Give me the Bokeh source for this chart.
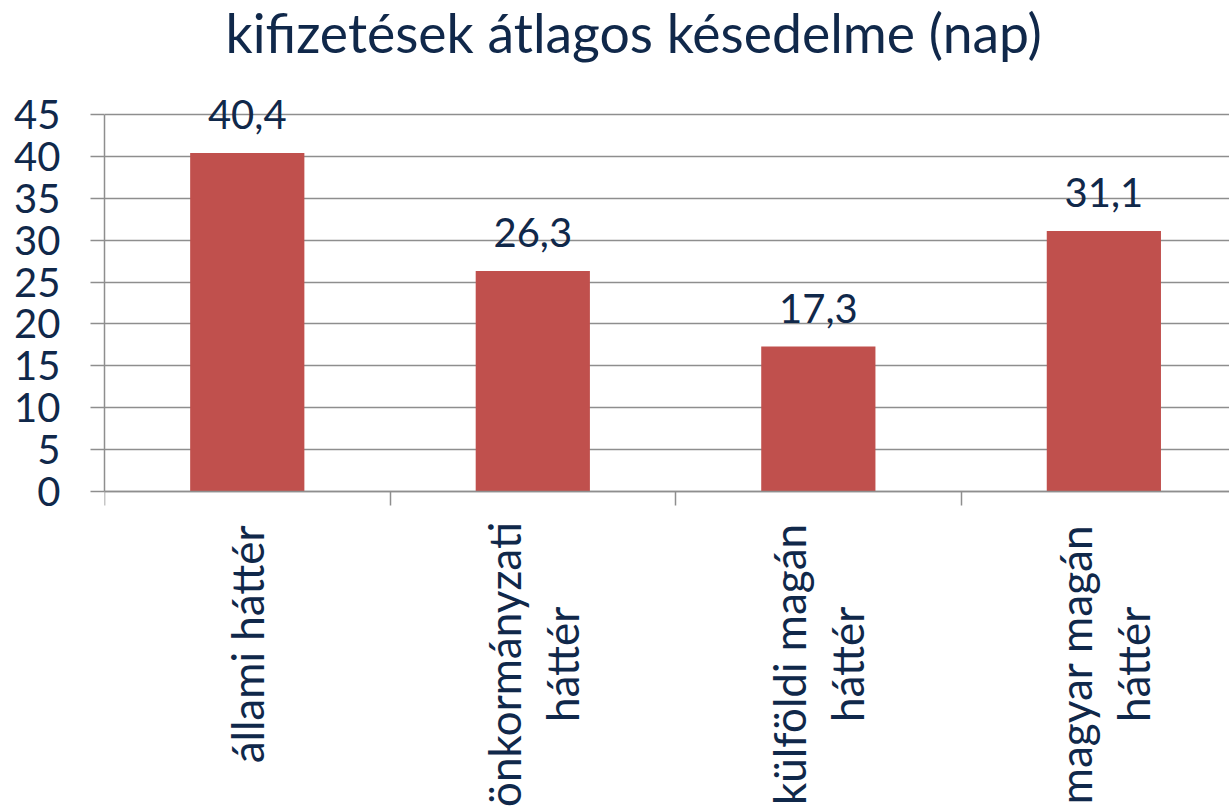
import numpy as np
from bokeh.plotting import figure
from bokeh.models import Range1d, FixedTicker, ColumnDataSource, LabelSet, Label
from bokeh.core.properties import value
from bokeh.embed import file_html
from bokeh.resources import INLINE

title = "kifizetések átlagos késedelme (nap)"
categories = ["állami háttér", "önkormányzati\nháttér", "külföldi magán\nháttér", "magyar magán\nháttér"]
values = [40.4, 26.3, 17.3, 31.1]
value_labels = ["40,4", "26,3", "17,3", "31,1"]
y_ticks = [0, 5, 10, 15, 20, 25, 30, 35, 40, 45]

FONT = "Lato"
TXT = "#10284A"
GRID = "#8E8E8E"
BAR = "#C0504D"

n = len(categories)
xpos = np.arange(n) + 0.5

FRAME_H = 811
p = figure(frame_width=1125, frame_height=FRAME_H, output_backend="svg", toolbar_location=None,
           x_range=Range1d(0, 3.94), y_range=Range1d(-38.2, 58.6),
           min_border_left=104, min_border_right=0, min_border_top=0, min_border_bottom=0)
p.outline_line_color = None
p.background_fill_color = "white"

# title drawn as a label at the top of the canvas
p.add_layout(Label(x=121, y=FRAME_H - 31, x_units="screen", y_units="screen", text=title,
                   text_align="left", text_baseline="alphabetic", text_font=FONT,
                   text_font_size="53.5px", text_color=TXT))

src = ColumnDataSource(dict(x=xpos, top=values, lab=value_labels))
p.vbar(x="x", top="top", width=0.4, source=src, fill_color=BAR, line_color=None)

p.add_layout(LabelSet(x="x", y="top", text="lab", source=src, text_align="center",
                      text_baseline="alphabetic", y_offset=24, text_font=value(FONT),
                      text_font_size="40px", text_color=TXT))

# y axis
p.yaxis.ticker = FixedTicker(ticks=y_ticks)
p.yaxis.bounds = (0, 45)
p.yaxis.axis_line_color = GRID
p.yaxis.axis_line_width = 1.5
p.yaxis.major_tick_line_color = GRID
p.yaxis.major_tick_line_width = 1.5
p.yaxis.major_tick_out = 14
p.yaxis.major_tick_in = 0
p.yaxis.minor_tick_line_color = None
p.yaxis.major_label_text_font = FONT
p.yaxis.major_label_text_font_size = "40px"
p.yaxis.major_label_text_color = TXT
p.yaxis.major_label_standoff = 30

p.ygrid.ticker = FixedTicker(ticks=y_ticks)
p.ygrid.grid_line_color = GRID
p.ygrid.grid_line_width = 1.5
p.xgrid.grid_line_color = None

# x axis at y=0 with separator ticks at category boundaries
p.xaxis.fixed_location = 0
p.xaxis.ticker = FixedTicker(ticks=list(xpos), minor_ticks=list(range(n + 1)))
p.xaxis.major_label_text_color = None
p.xaxis.major_tick_line_color = None
p.xaxis.minor_tick_line_color = GRID
p.xaxis.minor_tick_line_width = 1.5
p.xaxis.minor_tick_out = 14
p.xaxis.minor_tick_in = 0
p.xaxis.axis_line_color = GRID
p.xaxis.axis_line_width = 1.5

# category labels, vertical, below the axis
LINE_GAP = 58
for xi, cat in zip(xpos, categories):
    lines = cat.split("\n")
    k = len(lines)
    for j, line in enumerate(lines):
        if k == 1:
            align, yoff = "right", -34
        else:
            align, yoff = "center", -173
        p.add_layout(Label(x=xi, y=0, text=line, angle=np.pi / 2, text_align=align,
                           text_baseline="middle", x_offset=(j - (k - 1) / 2) * LINE_GAP,
                           y_offset=yoff, text_font=FONT, text_font_size="44px",
                           text_color=TXT))

open("out.html", "w").write(file_html(p, INLINE))
